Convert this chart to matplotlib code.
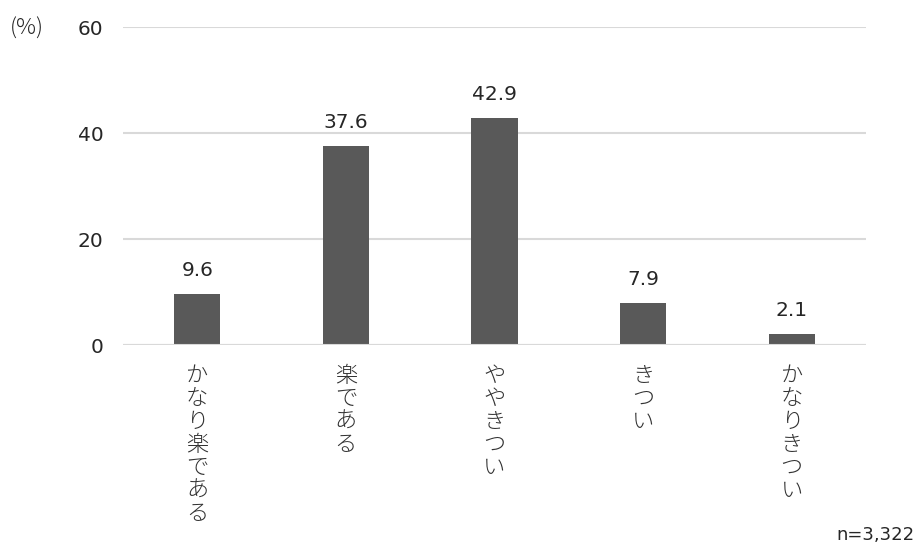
import matplotlib
matplotlib.use("Agg")
import matplotlib.pyplot as plt

# data
categories = ["かなり楽である", "楽である", "ややきつい", "きつい", "かなりきつい"]
values = [9.6, 37.6, 42.9, 7.9, 2.1]
yticks = [0, 20, 40, 60]

bar_color = "#595959"
text_color = "#262626"
grid_color = "#d9d9d9"

plt.rcParams['font.family'] = ['DejaVu Sans', 'Noto Sans CJK JP']
jp = ['Noto Sans CJK JP', 'DejaVu Sans']

fig = plt.figure(figsize=(9.19, 5.48), dpi=100)
ax = fig.add_axes([0.1338, 0.3704, 0.8085, 0.5803])

x = list(range(len(categories)))
ax.bar(x, values, width=0.31, color=bar_color, zorder=3)

ax.set_xlim(-0.5, len(categories) - 0.5)
ax.set_ylim(0, 60)
ax.set_yticks(yticks)
ax.set_yticklabels([str(t) for t in yticks], fontsize=14.5, color=text_color)
ax.tick_params(axis='y', length=0, pad=14)
ax.set_xticks([])
ax.yaxis.grid(True, color=grid_color, linewidth=1.5, zorder=0)
for s in ax.spines.values():
    s.set_visible(False)
ax.axhline(0, color=grid_color, linewidth=1.5, zorder=4)

# value labels
for xi, v in zip(x, values):
    ax.annotate(f"{v:.1f}", (xi, v), xytext=(0, 13), textcoords="offset points",
                ha="center", va="baseline", fontsize=14.5, color=text_color)

# vertical category labels, one character per row (pitch in points)
pitch = 16.6
for xi, lab in zip(x, categories):
    for i, ch in enumerate(lab):
        ax.annotate(ch, (xi, 0), xytext=(0, -22 - i * pitch), textcoords="offset points",
                    ha="center", va="center", fontsize=16, color="#333333",
                    family=jp, fontweight='light')

fig.text(10 / 919, 1 - 29 / 548, "(%)", fontsize=16, color=text_color,
         ha="left", va="center", family=jp, fontweight='light')
fig.text(914 / 919, 1 - 535 / 548, "n=3,322", fontsize=13, color=text_color,
         ha="right", va="center")

plt.savefig("out.png", dpi=100)
